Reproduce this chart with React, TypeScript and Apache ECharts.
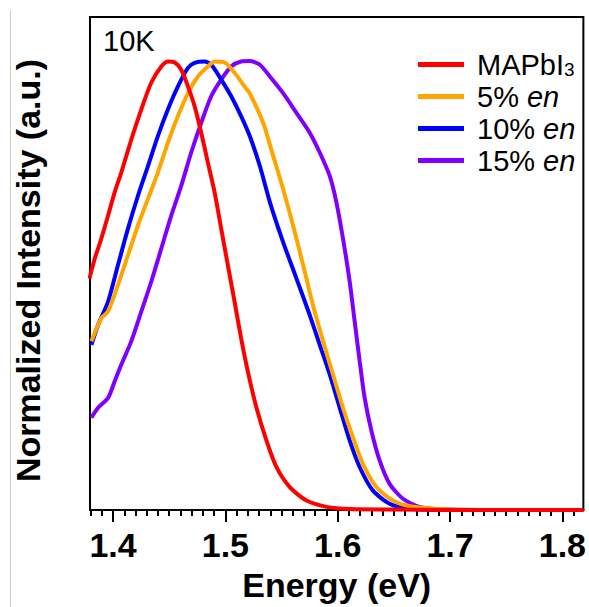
import React, { useEffect, useRef } from "react";
import * as echarts from "echarts";

const FONT = "'Liberation Sans', Arial, Helvetica, sans-serif";

const seriesNames = ["MAPbI3", "5% en", "10% en", "15% en"];
const seriesColors = ["#ff0000", "#ffa500", "#0000ff", "#7f00ff"];

const mapbiE = [1.379, 1.3837, 1.3896, 1.3956, 1.4015, 1.4074, 1.4163, 1.4252, 1.434, 1.443, 1.449, 1.455, 1.4607, 1.4667, 1.4726, 1.4785, 1.4844, 1.4904, 1.4963, 1.5022, 1.5082, 1.514, 1.52, 1.5277, 1.5366, 1.5455, 1.5573, 1.5722, 1.59, 1.611, 1.65, 1.7, 1.75, 1.819];
const mapbiI = [0.514, 0.558, 0.603, 0.654, 0.706, 0.75, 0.823, 0.89, 0.949, 0.985, 0.996, 0.994, 0.978, 0.941, 0.897, 0.838, 0.772, 0.706, 0.625, 0.544, 0.463, 0.382, 0.308, 0.227, 0.154, 0.095, 0.051, 0.021, 0.007, 0.002, 0.001, 0, 0, 0];

const en5E = [1.3807, 1.3896, 1.3956, 1.4044, 1.4133, 1.4222, 1.4311, 1.44, 1.4489, 1.4578, 1.4667, 1.4756, 1.4844, 1.4904, 1.4993, 1.5082, 1.517, 1.5218, 1.5336, 1.5425, 1.5514, 1.5603, 1.5692, 1.578, 1.587, 1.5958, 1.6047, 1.6136, 1.6225, 1.6344, 1.6492, 1.667, 1.7, 1.75];
const en5I = [0.375, 0.426, 0.441, 0.5, 0.566, 0.632, 0.691, 0.75, 0.816, 0.875, 0.926, 0.963, 0.985, 0.996, 0.994, 0.971, 0.941, 0.925, 0.86, 0.787, 0.713, 0.632, 0.544, 0.455, 0.375, 0.301, 0.227, 0.161, 0.102, 0.051, 0.021, 0.007, 0.001, 0];

const en10E = [1.3807, 1.3867, 1.3956, 1.4044, 1.4133, 1.4222, 1.4311, 1.44, 1.4489, 1.4578, 1.4667, 1.4726, 1.4815, 1.4874, 1.4963, 1.5052, 1.514, 1.5218, 1.5307, 1.5396, 1.5514, 1.5633, 1.5751, 1.584, 1.5929, 1.6018, 1.6107, 1.6196, 1.6314, 1.6462, 1.664, 1.7, 1.75];
const en10I = [0.367, 0.411, 0.463, 0.544, 0.625, 0.698, 0.764, 0.831, 0.89, 0.941, 0.982, 0.993, 0.996, 0.989, 0.956, 0.919, 0.875, 0.83, 0.764, 0.684, 0.595, 0.514, 0.433, 0.367, 0.301, 0.227, 0.154, 0.095, 0.043, 0.014, 0.003, 0, 0];

const en15E = [1.3807, 1.3867, 1.3956, 1.4015, 1.4074, 1.4163, 1.4252, 1.434, 1.443, 1.4518, 1.4607, 1.4696, 1.4785, 1.4874, 1.4963, 1.5052, 1.514, 1.5218, 1.5307, 1.5396, 1.5514, 1.5633, 1.5751, 1.584, 1.5929, 1.5988, 1.6047, 1.6107, 1.6151, 1.6196, 1.624, 1.63, 1.6373, 1.6462, 1.6581, 1.6729, 1.7, 1.75];
const en15I = [0.205, 0.227, 0.249, 0.286, 0.323, 0.375, 0.441, 0.507, 0.581, 0.654, 0.72, 0.794, 0.86, 0.919, 0.956, 0.985, 0.996, 0.997, 0.989, 0.963, 0.926, 0.882, 0.838, 0.794, 0.742, 0.684, 0.603, 0.507, 0.419, 0.33, 0.249, 0.176, 0.11, 0.058, 0.025, 0.007, 0.001, 0];

const majorTicks = [1.4, 1.5, 1.6, 1.7, 1.8];
const minorTicks = [1.38, 1.39, 1.4, 1.41, 1.42, 1.43, 1.44, 1.45, 1.46, 1.47, 1.48, 1.49, 1.5, 1.51, 1.52, 1.53, 1.54, 1.55, 1.56, 1.57, 1.58, 1.59, 1.6, 1.61, 1.62, 1.63, 1.64, 1.65, 1.66, 1.67, 1.68, 1.69, 1.7, 1.71, 1.72, 1.73, 1.74, 1.75, 1.76, 1.77, 1.78, 1.79, 1.8, 1.81];

const X_MIN = 1.3795;
const X_MAX = 1.8187;
const Y_MAX = 1.095;

const zip = (xs: number[], ys: number[]) => xs.map((x, i) => [x, ys[i]]);

const legendLabels: Record<string, string> = {
  "MAPbI3": "{n|MAPbI}{s|3}",
  "5% en": "{n|5% }{i|en}",
  "10% en": "{n|10% }{i|en}",
  "15% en": "{n|15% }{i|en}",
};

export default function App() {
  const ref = useRef<HTMLDivElement>(null);
  useEffect(() => {
    if (!ref.current) return;
    const chart = echarts.init(ref.current, null, { renderer: "svg" });
    const data = [zip(mapbiE, mapbiI), zip(en5E, en5I), zip(en10E, en10I), zip(en15E, en15I)];
    const drawOrder = [3, 2, 1, 0];
    chart.setOption({
      animation: false,
      backgroundColor: "#ffffff",
      grid: { left: 90, right: 5, top: 17, bottom: 94, show: true, borderColor: "#000", borderWidth: 2, containLabel: false },
      xAxis: [
        {
          type: "value",
          min: X_MIN,
          max: X_MAX,
          position: "bottom",
          splitLine: { show: false },
          axisLine: { show: true, lineStyle: { color: "#000", width: 2 } },
          axisTick: { show: true, customValues: majorTicks, length: 12, lineStyle: { color: "#000", width: 2 } },
          axisLabel: { show: true, customValues: majorTicks, margin: 18, fontSize: 34, fontWeight: "bold", color: "#000", fontFamily: FONT, formatter: (v: number) => v.toFixed(1) },
          name: "Energy (eV)",
          nameLocation: "middle",
          nameGap: 58,
          nameTextStyle: { fontSize: 34, fontWeight: "bold", color: "#000", fontFamily: FONT },
        },
        {
          type: "value",
          min: X_MIN,
          max: X_MAX,
          position: "bottom",
          splitLine: { show: false },
          axisLine: { show: false },
          axisTick: { show: true, customValues: minorTicks, length: 6, lineStyle: { color: "#000", width: 2 } },
          axisLabel: { show: false },
        },
      ],
      yAxis: {
        type: "value",
        min: 0,
        max: Y_MAX,
        splitLine: { show: false },
        axisLine: { show: true, lineStyle: { color: "#000", width: 2 } },
        axisTick: { show: false },
        axisLabel: { show: false },
        name: "Normalized Intensity (a.u.)",
        nameLocation: "middle",
        nameRotate: 90,
        nameGap: 45,
        nameTextStyle: { fontSize: 34, fontWeight: "bold", color: "#000", fontFamily: FONT, padding: [0, 14, 0, 0] },
      },
      legend: {
        orient: "vertical",
        left: 413,
        top: 45,
        itemWidth: 46,
        itemHeight: 5,
        itemGap: 3,
        icon: "rect",
        data: seriesNames,
        formatter: (name: string) => legendLabels[name] || name,
        textStyle: {
          color: "#000",
          fontFamily: FONT,
          fontSize: 29,
          lineHeight: 28,
          padding: [0, 0, 0, 8],
          rich: {
            n: { fontSize: 29, lineHeight: 28, color: "#000", fontFamily: FONT },
            i: { fontSize: 29, lineHeight: 28, fontStyle: "italic", color: "#000", fontFamily: FONT },
            s: { fontSize: 19, lineHeight: 9, verticalAlign: "bottom", color: "#000", fontFamily: FONT },
          },
        },
      },
      graphic: [
        { type: "line", shape: { x1: 10.5, y1: 10, x2: 10.5, y2: 607 }, style: { stroke: "#cccccc", lineWidth: 1 } },
        { type: "text", x: 103, y: 41, style: { text: "10K", fontSize: 29, fontFamily: FONT, fill: "#000", textVerticalAlign: "middle" } },
      ],
      series: drawOrder.map((k) => ({
        name: seriesNames[k],
        type: "line",
        xAxisIndex: 0,
        data: data[k],
        showSymbol: false,
        smooth: 0.25,
        lineStyle: { color: seriesColors[k], width: 4 },
        itemStyle: { color: seriesColors[k] },
        z: 3 + (3 - k),
      })),
    });
    return () => chart.dispose();
  }, []);
  return <div ref={ref} style={{ position: "absolute", left: 0, top: 0, width: 589, height: 607 }} />;
}
